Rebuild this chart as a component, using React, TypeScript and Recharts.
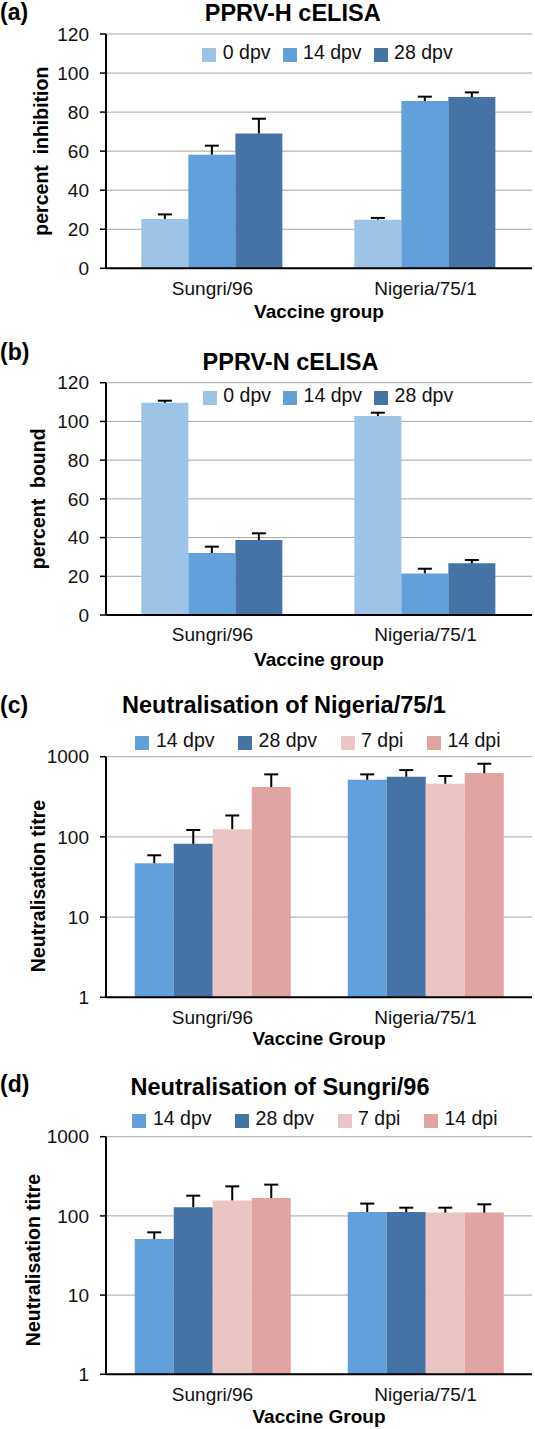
import React from 'react'
import { BarChart, Bar, XAxis, YAxis, CartesianGrid, Legend, ErrorBar, Label } from 'recharts'

const FONT = "'Liberation Sans', Arial, Helvetica, sans-serif"

const groups = ['Sungri/96', 'Nigeria/75/1']

// (a) PPRV-H cELISA, percent inhibition (means, then upper error)
const hSeries = ['0 dpv', '14 dpv', '28 dpv']
const h0dpv = [25.3, 24.9]
const h14dpv = [58.2, 85.7]
const h28dpv = [69.1, 87.7]
const h0dpvErr = [2.3, 0.9]
const h14dpvErr = [4.6, 2.2]
const h28dpvErr = [7.5, 2.4]

// (b) PPRV-N cELISA, percent bound
const n0dpv = [109.6, 102.8]
const n14dpv = [32.0, 21.5]
const n28dpv = [38.7, 26.7]
const n0dpvErr = [1.1, 1.7]
const n14dpvErr = [3.3, 2.4]
const n28dpvErr = [3.5, 1.7]

// (c) neutralisation of Nigeria/75/1
const vnSeries = ['14 dpv', '28 dpv', '7 dpi', '14 dpi']
const nig14dpv = [47, 516]
const nig28dpv = [82, 563]
const nig7dpi = [125, 460]
const nig14dpi = [418, 625]
const nig14dpvErr = [12, 86]
const nig28dpvErr = [40, 118]
const nig7dpiErr = [60, 114]
const nig14dpiErr = [184, 192]

// (d) neutralisation of Sungri/96
const sun14dpv = [51, 112]
const sun28dpv = [129, 112]
const sun7dpi = [157, 110]
const sun14dpi = [168, 110]
const sun14dpvErr = [11, 31]
const sun28dpvErr = [51, 15]
const sun7dpiErr = [79, 17]
const sun14dpiErr = [80, 30]

const linearTicks = [0, 20, 40, 60, 80, 100, 120]
const logTicks = [1, 10, 100, 1000]

const blues = ['#9dc3e6', '#62a0db', '#4673a6']
const vnColors = ['#62a0db', '#4673a6', '#ebc4c4', '#e0a4a3']

// Excel-style "plus" error bars: only the upper half is drawn
const buildRows = (means: number[][], errs: number[][]) =>
  groups.map((g, i) => {
    const row: Record<string, any> = { group: g }
    means.forEach((m, k) => {
      row['s' + k] = m[i]
      row['e' + k] = [0, errs[k][i]]
    })
    return row
  })

// legend keeps the series order (recharts would sort it by name)
const renderLegend = (names: string[], colors: string[], gap: number) => () => (
  <div style={{ display: 'flex', justifyContent: 'center', alignItems: 'center', gap }}>
    {names.map((name, k) => (
      <div key={name} style={{ display: 'flex', alignItems: 'center' }}>
        <span
          style={{
            display: 'inline-block',
            width: 14,
            height: 14,
            background: colors[k],
            marginRight: 6.5,
            position: 'relative',
            top: 3,
          }}
        />
        <span style={{ color: '#111' }}>{name}</span>
      </div>
    ))}
  </div>
)

interface PanelProps {
  top: number
  height: number
  plotTop: number
  plotBottom: number
  titleBase: number
  tag: string
  tagY: number
  title: string
  titleX: number
  titleY: number
  yLabel: string
  yLabelX: number
  yLabelDy: number
  legendX: number
  legendY: number
  legendGap: number
  categoryGap: string
  names: string[]
  colors: string[]
  rows: Record<string, any>[]
  log?: boolean
}

function Panel(p: PanelProps) {
  const W = 535
  const axisW = 106
  const xAxisH = p.titleBase - p.plotBottom
  const margin = {
    top: p.plotTop - p.top,
    right: 3,
    left: 0,
    bottom: p.top + p.height - p.plotBottom - xAxisH,
  }
  const yLabel = (
    <Label
      value={p.yLabel}
      angle={-90}
      position="center"
      dx={p.yLabelX - axisW / 2}
      dy={p.yLabelDy}
      style={{ fontSize: 19.5, fontWeight: 'bold', fill: '#000' }}
    />
  )
  return (
    <div style={{ position: 'absolute', left: 0, top: p.top, width: W, height: p.height }}>
      <div
        style={{
          position: 'absolute',
          left: 0,
          top: p.tagY - p.top - 12,
          fontSize: 23,
          lineHeight: '24px',
          fontWeight: 'bold',
        }}
      >
        {p.tag}
      </div>
      <div
        style={{
          position: 'absolute',
          left: p.titleX - 250,
          width: 500,
          textAlign: 'center',
          top: p.titleY - p.top - 12,
          fontSize: 23.5,
          lineHeight: '24px',
          fontWeight: 'bold',
        }}
      >
        {p.title}
      </div>
      <BarChart
        width={W}
        height={p.height}
        data={p.rows}
        margin={margin}
        barCategoryGap={p.categoryGap}
        barGap={0}
      >
        <CartesianGrid vertical={false} stroke="#a6a6a6" strokeWidth={1} />
        {/* boundary tick marks between categories, as Excel draws them */}
        <XAxis
          xAxisId="edge"
          type="number"
          domain={[0, 2]}
          ticks={[0, 1, 2]}
          allowDataOverflow
          height={0}
          axisLine={false}
          tick={false}
          tickSize={6}
          tickLine={{ stroke: '#000', strokeWidth: 1.5 }}
        />
        <XAxis
          dataKey="group"
          height={xAxisH}
          axisLine={{ stroke: '#000', strokeWidth: 2 }}
          tickLine={false}
          tickSize={0}
          tickMargin={13}
          tick={{ fontSize: 19, fill: '#111' }}
        >
          <Label
            value={p.log ? 'Vaccine Group' : 'Vaccine group'}
            position="insideBottom"
            offset={0}
            style={{ fontSize: 19, fontWeight: 'bold', fill: '#000' }}
          />
        </XAxis>
        {p.log ? (
          <YAxis
            width={axisW}
            scale="log"
            type="number"
            domain={[1, 1000]}
            ticks={logTicks}
            allowDataOverflow
            axisLine={{ stroke: '#000', strokeWidth: 2 }}
            tickLine={{ stroke: '#000', strokeWidth: 1.5 }}
            tickSize={6}
            tickMargin={11}
            tick={{ fontSize: 19, fill: '#111' }}
          >
            {yLabel}
          </YAxis>
        ) : (
          <YAxis
            width={axisW}
            type="number"
            domain={[0, 120]}
            ticks={linearTicks}
            axisLine={{ stroke: '#000', strokeWidth: 2 }}
            tickLine={{ stroke: '#000', strokeWidth: 1.5 }}
            tickSize={6}
            tickMargin={11}
            tick={{ fontSize: 19, fill: '#111' }}
          >
            {yLabel}
          </YAxis>
        )}
        <Legend
          verticalAlign="middle"
          align="center"
          layout="horizontal"
          wrapperStyle={{
            left: p.legendX - 260,
            width: 520,
            top: p.legendY - p.top - 11,
            fontSize: 19.5,
            lineHeight: '22px',
          }}
          content={renderLegend(p.names, p.colors, p.legendGap)}
        />
        {p.names.map((name, k) => (
          <Bar
            key={name}
            dataKey={'s' + k}
            name={name}
            fill={p.colors[k]}
            isAnimationActive={false}
          >
            <ErrorBar
              dataKey={'e' + k}
              direction="y"
              width={7}
              stroke="#000"
              strokeWidth={2}
              isAnimationActive={false}
            />
          </Bar>
        ))}
      </BarChart>
    </div>
  )
}

export default function App() {
  const hRows = buildRows([h0dpv, h14dpv, h28dpv], [h0dpvErr, h14dpvErr, h28dpvErr])
  const nRows = buildRows([n0dpv, n14dpv, n28dpv], [n0dpvErr, n14dpvErr, n28dpvErr])
  const nigRows = buildRows(
    [nig14dpv, nig28dpv, nig7dpi, nig14dpi],
    [nig14dpvErr, nig28dpvErr, nig7dpiErr, nig14dpiErr]
  )
  const sunRows = buildRows(
    [sun14dpv, sun28dpv, sun7dpi, sun14dpi],
    [sun14dpvErr, sun28dpvErr, sun7dpiErr, sun14dpiErr]
  )

  return (
    <div
      style={{
        position: 'absolute',
        left: 0,
        top: 0,
        width: 535,
        height: 1429,
        background: '#fff',
        fontFamily: FONT,
        color: '#000',
        overflow: 'hidden',
      }}
    >
      <style>{'.recharts-errorBar line:nth-of-type(3){display:none}'}</style>
      <Panel
        top={0}
        height={335}
        plotTop={34}
        plotBottom={268.3}
        titleBase={317.7}
        tag="(a)"
        tagY={11.5}
        title="PPRV-H cELISA"
        titleX={292.7}
        titleY={12.8}
        yLabel={'percent\u00a0 inhibition'}
        yLabelX={41}
        yLabelDy={0}
        legendX={327.5}
        legendY={51.7}
        legendGap={12}
        categoryGap="16.6%"
        names={hSeries}
        colors={blues}
        rows={hRows}
      />
      <Panel
        top={335}
        height={345}
        plotTop={382.7}
        plotBottom={615}
        titleBase={666}
        tag="(b)"
        tagY={352}
        title="PPRV-N cELISA"
        titleX={290.5}
        titleY={361.7}
        yLabel={'percent\u00a0 bound'}
        yLabelX={38.5}
        yLabelDy={0}
        legendX={328}
        legendY={395}
        legendGap={12}
        categoryGap="16.6%"
        names={hSeries}
        colors={blues}
        rows={nRows}
      />
      <Panel
        top={680}
        height={380}
        plotTop={756.7}
        plotBottom={997.3}
        titleBase={1045}
        tag="(c)"
        tagY={705}
        title="Neutralisation of Nigeria/75/1"
        titleX={284}
        titleY={705}
        yLabel="Neutralisation titre"
        yLabelX={38.5}
        yLabelDy={9}
        legendX={318}
        legendY={740}
        legendGap={23.5}
        categoryGap="13.5%"
        names={vnSeries}
        colors={vnColors}
        rows={nigRows}
        log
      />
      <Panel
        top={1060}
        height={369}
        plotTop={1136.7}
        plotBottom={1374.3}
        titleBase={1423}
        tag="(d)"
        tagY={1084}
        title="Neutralisation of Sungri/96"
        titleX={280}
        titleY={1087}
        yLabel="Neutralisation titre"
        yLabelX={33}
        yLabelDy={4.5}
        legendX={315}
        legendY={1117.5}
        legendGap={23.5}
        categoryGap="13.5%"
        names={vnSeries}
        colors={vnColors}
        rows={sunRows}
        log
      />
    </div>
  )
}
